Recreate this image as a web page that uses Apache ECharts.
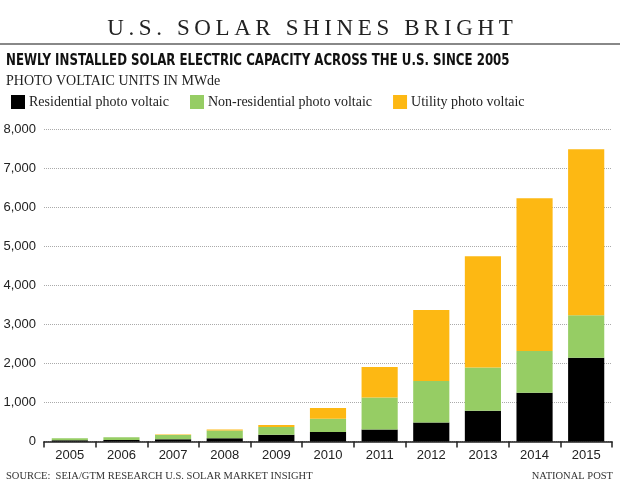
<!DOCTYPE html>
<html>
<head>
<meta charset="utf-8">
<script src="https://cdn.jsdelivr.net/npm/echarts@6/dist/echarts.min.js"></script>
<style>
html,body{margin:0;padding:0;background:#fff;}
#chart{width:620px;height:493px;}
</style>
</head>
<body>
<div id="chart"></div>
<script>
const categories = ['2005','2006','2007','2008','2009','2010','2011','2012','2013','2014','2015'];
const residential = [30, 38, 60, 85, 170, 245, 305, 490, 790, 1250, 2150];
const nonResidential = [52, 70, 105, 200, 200, 340, 825, 1060, 1110, 1070, 1085];
const utility = [0, 0, 12, 25, 50, 275, 780, 1820, 2850, 3915, 4256];
const yTicks = [0, 1000, 2000, 3000, 4000, 5000, 6000, 7000, 8000];
const seriesNames = ['Residential photo voltaic', 'Non-residential photo voltaic', 'Utility photo voltaic'];
const colors = ['#000000', '#96cd64', '#fdb813'];

const titleText = 'U.S. SOLAR SHINES BRIGHT';
const spaced = titleText.split('').join('\u2009');

const chart = echarts.init(document.getElementById('chart'), null, {renderer: 'canvas'});
const serif = '"Liberation Serif", "DejaVu Serif", serif';
const sans = '"Liberation Sans", Arial, sans-serif';

chart.setOption({
  animation: false,
  backgroundColor: '#fff',
  color: colors,
  legend: {
    left: 6, top: 90,
    itemWidth: 14, itemHeight: 14, itemGap: 21,
    icon: 'rect',
    textStyle: {fontFamily: serif, fontSize: 14, color: '#222', padding: [0,0,0,-1]},
    data: seriesNames
  },
  graphic: [
    {type: 'text', left: 'center', top: 17, style: {text: spaced, font: '23px ' + serif, fill: '#222'}},
    {type: 'line', shape: {x1: 0, y1: 44, x2: 620, y2: 44}, style: {stroke: '#888', lineWidth: 2}},
    {type: 'text', x: 6, y: 54, scaleX: 0.875, style: {x: 0, y: 0, verticalAlign: 'top', text: 'NEWLY INSTALLED SOLAR ELECTRIC CAPACITY ACROSS THE U.S. SINCE 2005', font: 'bold 15px "DejaVu Sans Condensed", sans-serif', fill: '#111'}},
    {type: 'text', left: 6, top: 74, style: {text: 'PHOTO VOLTAIC UNITS IN MWde', font: '14px ' + serif, fill: '#222'}},
    {type: 'text', left: 6, top: 471, style: {text: 'SOURCE:  SEIA/GTM RESEARCH U.S. SOLAR MARKET INSIGHT', font: '10.5px ' + serif, fill: '#333'}},
    {type: 'text', right: 7, top: 471, style: {text: 'NATIONAL POST', font: '10.5px ' + serif, fill: '#333'}}
  ],
  grid: {left: 44, right: 8, top: 129.5, bottom: 51.5},
  xAxis: {
    type: 'category',
    data: categories,
    boundaryGap: true,
    axisLine: {lineStyle: {color: '#222', width: 1.5}},
    axisTick: {show: true, length: 6, lineStyle: {color: '#222', width: 1.5}},
    axisLabel: {fontFamily: sans, fontSize: 13, color: '#222', margin: 7}
  },
  yAxis: {
    type: 'value',
    min: yTicks[0], max: yTicks[yTicks.length - 1], interval: 1000,
    axisLine: {show: false},
    axisTick: {show: false},
    axisLabel: {fontFamily: sans, fontSize: 13, color: '#222', margin: 8,
      formatter: v => v.toLocaleString('en-US')},
    splitLine: {lineStyle: {color: '#aaa', type: [1, 1], width: 1}}
  },
  series: [
    {name: seriesNames[0], type: 'bar', stack: 'total', data: residential, barCategoryGap: '30%'},
    {name: seriesNames[1], type: 'bar', stack: 'total', data: nonResidential, barCategoryGap: '30%'},
    {name: seriesNames[2], type: 'bar', stack: 'total', data: utility, barCategoryGap: '30%'}
  ]
});
</script>
</body>
</html>
